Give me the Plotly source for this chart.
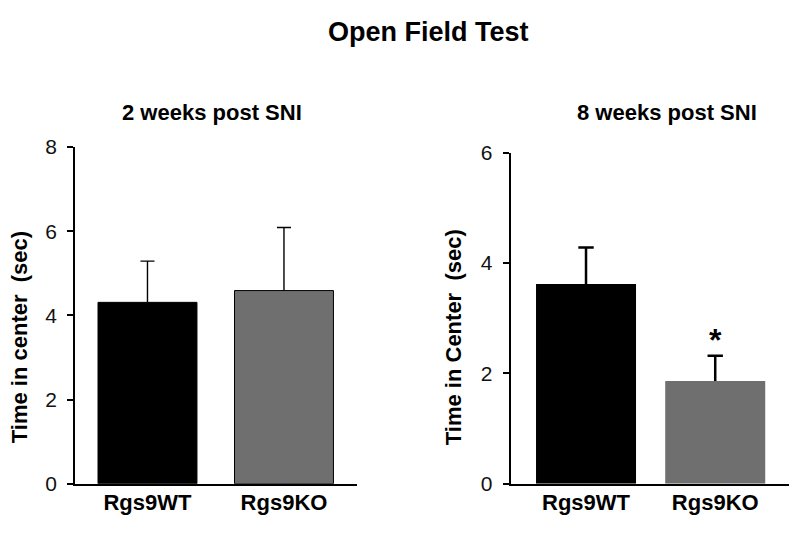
import plotly.graph_objects as go

# ---------------- data ----------------
categories = ["Rgs9WT", "Rgs9KO"]
wk2_mean = [4.31, 4.59]
wk2_err = [0.98, 1.50]
wk8_mean = [3.62, 1.86]
wk8_err = [0.66, 0.46]
wk8_sig_y = [None, 2.71]       # position of significance star (data units)
wk8_sig_text = ["", "*"]
wk2_ticks = [0, 2, 4, 6, 8]
wk8_ticks = [0, 2, 4, 6]

main_title = "Open Field Test"
sub_titles = ["2 weeks post SNI", "8 weeks post SNI"]
y_titles = ["Time in center\u00a0 (sec)", "Time in Center\u00a0 (sec)"]

# ---------------- style ----------------
# The page body has an 8px margin; size the figure so the page is 800x533.
OFF = 8
W, H = 800 - 2 * OFF, 533 - 2 * OFF
FONT = "Liberation Sans, Arial, sans-serif"
bar_colors = ["#000000", "#6f6f6f"]

def px(x):
    return (x - OFF) / W

def py(y):
    return 1 - (y - OFF) / H

fig = go.Figure()

# 2 weeks panel
fig.add_trace(go.Bar(
    x=categories, y=wk2_mean, xaxis="x", yaxis="y", width=0.725,
    marker=dict(color=bar_colors, line=dict(color="#000000", width=1)),
    error_y=dict(type="data", symmetric=False, array=wk2_err,
                 arrayminus=[0] * len(wk2_err), width=0, thickness=1.4,
                 color="#000000"),
    showlegend=False, hoverinfo="skip"))
fig.add_trace(go.Scatter(
    x=categories, y=[m + e for m, e in zip(wk2_mean, wk2_err)],
    xaxis="x", yaxis="y", mode="markers",
    marker=dict(symbol="line-ew", size=10, line=dict(color="#000000", width=1.4)),
    showlegend=False, hoverinfo="skip"))

# 8 weeks panel
fig.add_trace(go.Bar(
    x=categories, y=wk8_mean, xaxis="x2", yaxis="y2", width=0.774,
    marker=dict(color=bar_colors, line=dict(width=0)),
    error_y=dict(type="data", symmetric=False, array=wk8_err,
                 arrayminus=[0] * len(wk8_err), width=0, thickness=2.5,
                 color="#000000"),
    showlegend=False, hoverinfo="skip"))
fig.add_trace(go.Scatter(
    x=categories, y=[m + e for m, e in zip(wk8_mean, wk8_err)],
    xaxis="x2", yaxis="y2", mode="markers",
    marker=dict(symbol="line-ew", size=11, line=dict(color="#000000", width=2.5)),
    showlegend=False, hoverinfo="skip"))

# significance star
for c, yv, t in zip(categories, wk8_sig_y, wk8_sig_text):
    if yv is not None and t:
        fig.add_annotation(x=c, y=yv, xref="x2", yref="y2", text="<b>%s</b>" % t,
                           showarrow=False, yanchor="middle", yshift=-6,
                           font=dict(family=FONT, size=32, color="#000000"))

xaxis_common = dict(type="category", showline=True, linecolor="#000000",
                    ticks="", showgrid=False, zeroline=False,
                    tickfont=dict(family=FONT, size=22, color="#000000", weight="bold"),
                    ticklabelstandoff=-2, fixedrange=True)
yaxis_common = dict(showline=True, linecolor="#000000", ticks="outside",
                    ticklen=6, tickcolor="#000000", showgrid=False, zeroline=False,
                    tickfont=dict(family=FONT, size=21, color="#111111"),
                    ticklabelstandoff=6, fixedrange=True)

fig.update_layout(
    width=W, height=H, autosize=False,
    margin=dict(l=0, r=0, t=0, b=0),
    paper_bgcolor="white", plot_bgcolor="white",
    showlegend=False, barmode="group",
    xaxis=dict(domain=[px(75), px(357)], range=[-0.531, 1.535], anchor="y",
               linewidth=1.5, **xaxis_common),
    yaxis=dict(domain=[py(493.3), py(141)], range=[0, 8], anchor="x",
               tickvals=wk2_ticks, linewidth=1.5, tickwidth=1.5, **yaxis_common),
    xaxis2=dict(domain=[px(510.7), px(789)], range=[-0.583, 1.571], anchor="y2",
                linewidth=2, **xaxis_common),
    yaxis2=dict(domain=[py(493.3), py(146.7)], range=[0, 6], anchor="x2",
                tickvals=wk8_ticks, linewidth=2, tickwidth=2, **yaxis_common),
)

# titles
fig.add_annotation(x=px(428), y=py(21), xref="paper", yref="paper",
                   text="<b>%s</b>" % main_title, showarrow=False,
                   xanchor="center", yanchor="middle",
                   font=dict(family=FONT, size=27, color="#000000"))
for xc, t in zip([212.5, 667], sub_titles):
    fig.add_annotation(x=px(xc), y=py(105), xref="paper", yref="paper",
                       text="<b>%s</b>" % t, showarrow=False,
                       xanchor="center", yanchor="middle",
                       font=dict(family=FONT, size=22, color="#000000"))
for xc, t in zip([19, 453], y_titles):
    fig.add_annotation(x=px(xc), y=py(340), xref="paper", yref="paper",
                       text="<b>%s</b>" % t, showarrow=False, textangle=-90,
                       xanchor="center", yanchor="middle",
                       font=dict(family=FONT, size=22, color="#000000"))

fig.write_html("out.html")
